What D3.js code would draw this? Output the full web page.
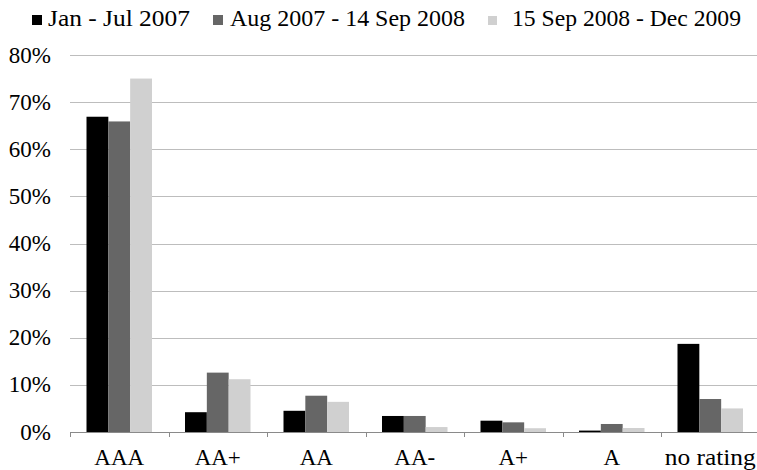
<!DOCTYPE html>
<html><head><meta charset="utf-8">
<script src="https://cdnjs.cloudflare.com/ajax/libs/d3/7.8.5/d3.min.js"></script>
<style>
svg text { font-family: "Liberation Serif", "Times New Roman", serif !important; }
</style>
</head>
<body style="margin:0">
<script>
const categories = ["AAA","AA+","AA","AA-","A+","A","no rating"];
const seriesNames = ["Jan - Jul 2007","Aug 2007 - 14 Sep 2008","15 Sep 2008 - Dec 2009"];
const s1 = [66.9, 4.2, 4.5, 3.4, 2.4, 0.3, 18.7];
const s2 = [65.9, 12.6, 7.7, 3.4, 2.05, 1.7, 7.0];
const s3 = [75.0, 11.2, 6.4, 1.05, 0.8, 0.85, 5.0];
const yTicks = [0,10,20,30,40,50,60,70,80];
const colors = ["#000000","#666666","#d0d0d0"];

const W = 757, H = 470;
const fontOf = d => '"Liberation Serif"';
const svg = d3.select("body").append("svg").attr("width",W).attr("height",H).style("display","block");
const pLeft = 70, pRight = 759.5, pTop = 55, pBottom = 432;

const x = d3.scaleBand().domain(categories).range([pLeft,pRight]).padding(0);
const x1 = d3.scaleBand().domain(seriesNames).range([16.5, x.bandwidth()-16.5]).padding(0);
const y = d3.scaleLinear().domain([0,80]).range([pBottom,pTop]);

svg.append("g").selectAll("line").data(yTicks.filter(d=>d>0)).join("line")
  .attr("x1",pLeft).attr("x2",W).attr("y1",d=>Math.round(y(d))+0.5).attr("y2",d=>Math.round(y(d))+0.5)
  .attr("stroke","#bdbdbd").attr("stroke-width",1.2);

svg.append("g").selectAll("text").data(yTicks).join("text")
  .attr("x",51).attr("y",d=>y(d)).attr("dy","0.33em").attr("text-anchor","end")
  .attr("font-size",23).style("font-family",fontOf).text(d=>d+"%");

[s1,s2,s3].forEach((vals,si)=>{
  svg.append("g").selectAll("rect").data(vals).join("rect")
    .attr("x",(d,i)=>x(categories[i])+x1(seriesNames[si]))
    .attr("width",x1.bandwidth())
    .attr("y",d=>y(d)).attr("height",d=>y(0)-y(d))
    .attr("fill",colors[si]);
});

const gx = svg.append("g").attr("transform",`translate(0,${pBottom})`);
gx.append("line").attr("x1",pLeft).attr("x2",W).attr("y1",0.5).attr("y2",0.5).attr("stroke","#8a8a8a").attr("stroke-width",1.2);
gx.selectAll("line.tk").data(d3.range(categories.length+1)).join("line").attr("class","tk")
  .attr("x1",i=>Math.round(pLeft+i*x.step())+0.5).attr("x2",i=>Math.round(pLeft+i*x.step())+0.5)
  .attr("y1",0).attr("y2",5).attr("stroke","#8a8a8a");
gx.selectAll("text.lb").data(categories).join("text").attr("class","lb")
  .attr("x",d=>x(d)+x.bandwidth()/2).attr("y",33).attr("text-anchor","middle")
  .attr("font-size",23).style("font-family",fontOf).text(d=>d)
  .each(function(d){ if(d==="no rating"){ d3.select(this).attr("textLength",91).attr("lengthAdjust","spacingAndGlyphs"); }});

const legX = [32, 213, 488];
const legTxtX = [48, 230, 512];
const legW = [142, 235, 229];
seriesNames.forEach((n,i)=>{
  svg.append("rect").attr("x",legX[i]).attr("y",i===2?16:15).attr("width",i===2?9:10).attr("height",i===2?9:10).attr("fill",colors[i]);
  svg.append("text").attr("x",legTxtX[i]).attr("y",26).attr("font-size",23).style("font-family",fontOf).text(n)
    .attr("textLength",legW[i]).attr("lengthAdjust","spacingAndGlyphs");
});
</script>
</body></html>
